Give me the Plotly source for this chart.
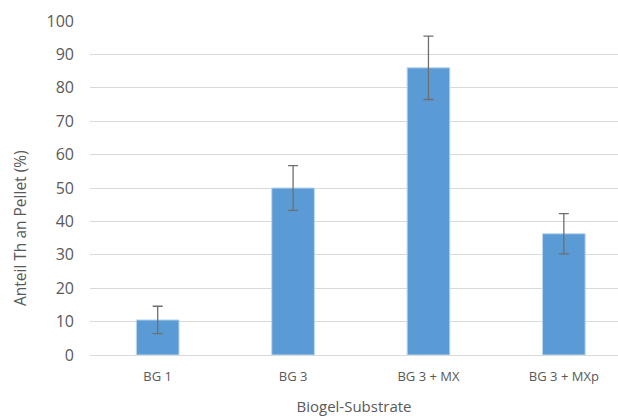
import plotly.graph_objects as go

categories = ["BG 1", "BG 3", "BG 3 + MX", "BG 3 + MXp"]
values = [10.5, 50.0, 86.0, 36.3]
errors = [4.1, 6.7, 9.5, 6.0]
y_ticks = [0, 10, 20, 30, 40, 50, 60, 70, 80, 90, 100]

grey_text = "#595959"
font_family = "Open Sans"

fig = go.Figure()
fig.add_trace(go.Bar(
    x=list(range(len(categories))),
    y=values,
    width=0.315,
    marker=dict(color="#5B9BD5", line=dict(color="#BDD7EE", width=1)),
    error_y=dict(type="data", array=errors, visible=True,
                 color="#6E6E6E", thickness=1.3, width=5),
))

fig.update_layout(
    width=618, height=416,
    margin=dict(l=90, r=0, t=21, b=61, autoexpand=False),
    paper_bgcolor="white", plot_bgcolor="white",
    showlegend=False,
    font=dict(family=font_family, color=grey_text),
    annotations=[dict(
        text="Anteil Th an Pellet (%)", textangle=-90,
        xref="paper", yref="paper", x=-0.1326, y=0.38,
        xanchor="center", yanchor="middle", showarrow=False,
        font=dict(size=15.5, color=grey_text),
    )],
)
fig.update_xaxes(
    range=[-0.5, 3.40],
    tickvals=list(range(len(categories))),
    ticktext=categories,
    tickfont=dict(size=13, color=grey_text),
    ticks="", showgrid=False, zeroline=False,
    showline=False, automargin=False,
    ticklabelstandoff=12,
    title=dict(text="Biogel-Substrate", font=dict(size=15, color=grey_text), standoff=18),
)
fig.update_yaxes(
    range=[0, 100],
    tickvals=y_ticks,
    tickfont=dict(size=16, color=grey_text),
    ticks="", showgrid=True, gridcolor="#D9D9D9", gridwidth=1,
    zeroline=True, zerolinecolor="#D9D9D9", zerolinewidth=1,
    showline=False, automargin=False,
    ticklabelstandoff=15,
)

fig.write_html(
    "out.html",
    config={"displayModeBar": False},
    post_script="document.body.style.margin='0';document.body.style.overflow='hidden';",
)
